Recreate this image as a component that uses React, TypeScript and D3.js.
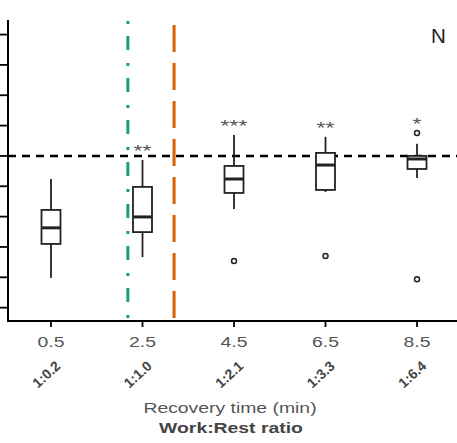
import React from "react";
import * as d3 from "d3";

const recovery = [0.5, 2.5, 4.5, 6.5, 8.5];
const ratios = ["1:0.2", "1:1.0", "1:2.1", "1:3.3", "1:6.4"];
const whiskerLow = [-4.02, -3.33, -1.75, -1.19, -0.73];
const q1 = [-2.9, -2.51, -1.22, -1.12, -0.43];
const median = [-2.37, -2.01, -0.76, -0.3, -0.1];
const q3 = [-1.78, -1.02, -0.33, 0.1, 0.0];
const whiskerHigh = [-0.76, -0.13, 0.69, 0.63, 0.4];
const outliers = [[], [], [-3.46], [-3.3], [0.76, -4.06]];
const stars = ["", "**", "***", "**", "*"];
const yTicks = [-5, -4, -3, -2, -1, 0, 1, 2, 3, 4];
const greenLine = 2.18;
const orangeLine = 3.19;
const refLine = 0;

export default function App() {
  const W = 457, H = 443;
  const axisX = 8, axisY = 321;
  const x = d3.scaleLinear().domain([0.5, 8.5]).range([51, 417]);
  const y = d3.scaleLinear().domain([-5.44, 4.48]).range([321, 20]);
  const bw = 19;
  const sx = 1.25;
  const font = "Liberation Sans, Arial, sans-serif";
  return (
    <svg width={W} height={H} style={{ position: "absolute", left: 0, top: 0, background: "#fff" }} fontFamily={font}>
      <line x1={axisX} x2={W} y1={y(refLine)} y2={y(refLine)} stroke="#000" strokeWidth={2.5} strokeDasharray="8 6" />
      <line x1={x(greenLine)} x2={x(greenLine)} y1={21} y2={axisY} stroke="#1B9E77" strokeWidth={3} strokeDasharray="3 12 14 13" />
      <line x1={x(orangeLine)} x2={x(orangeLine)} y1={25} y2={axisY} stroke="#D95F02" strokeWidth={3} strokeDasharray="27 11" />
      {recovery.map((r, i) => {
        const cx = x(r);
        const topVal = Math.max(whiskerHigh[i], ...(outliers[i].length ? outliers[i] : [-99]));
        return (
          <g key={i}>
            <line x1={cx} x2={cx} y1={y(whiskerHigh[i])} y2={y(q3[i])} stroke="#222" strokeWidth={1.8} />
            <line x1={cx} x2={cx} y1={y(q1[i])} y2={y(whiskerLow[i])} stroke="#222" strokeWidth={1.8} />
            <rect x={cx - bw / 2} y={y(q3[i])} width={bw} height={y(q1[i]) - y(q3[i])} fill="#fff" stroke="#222" strokeWidth={1.8} />
            <line x1={cx - bw / 2} x2={cx + bw / 2} y1={y(median[i])} y2={y(median[i])} stroke="#222" strokeWidth={3} />
            {outliers[i].map((o, j) => (
              <circle key={j} cx={cx} cy={y(o)} r={2.5} fill="#fff" stroke="#222" strokeWidth={1.5} />
            ))}
            {stars[i] && (
              <text transform={`translate(${cx},${y(topVal) - 3}) scale(1.35,1)`} textAnchor="middle" fontSize={17} fill="#555">{stars[i]}</text>
            )}
          </g>
        );
      })}
      <line x1={axisX} x2={axisX} y1={20} y2={axisY} stroke="#000" strokeWidth={2} />
      {yTicks.map((t) => (
        <line key={t} x1={0} x2={axisX} y1={y(t)} y2={y(t)} stroke="#000" strokeWidth={1.8} />
      ))}
      <line x1={axisX - 1} x2={W} y1={axisY} y2={axisY} stroke="#000" strokeWidth={2} />
      {recovery.map((r, i) => {
        const lx = x(r) - 1.5;
        const ly = axisY + 57;
        return (
          <g key={i}>
            <line x1={x(r)} x2={x(r)} y1={axisY} y2={axisY + 6} stroke="#000" strokeWidth={1.8} />
            <text transform={`translate(${x(r)},${axisY + 26}) scale(${sx},1)`} textAnchor="middle" fontSize={15.5} fill="#555">{r.toFixed(1)}</text>
            <g transform={`translate(${lx},${ly})`}>
              <g transform="rotate(-42)">
                <text x={0} y={0} textAnchor="middle" fontSize={14} fontWeight="bold" fill="#444">{ratios[i]}</text>
              </g>
            </g>
          </g>
        );
      })}
      <text transform={`translate(230,413) scale(${sx},1)`} textAnchor="middle" fontSize={15.5} fill="#555">Recovery time (min)</text>
      <text transform={`translate(231,433) scale(${sx},1)`} textAnchor="middle" fontSize={15.5} fontWeight="bold" fill="#444">Work:Rest ratio</text>
      <text x={438.5} y={43} textAnchor="middle" fontSize={20.5} fill="#222">N</text>
    </svg>
  );
}
